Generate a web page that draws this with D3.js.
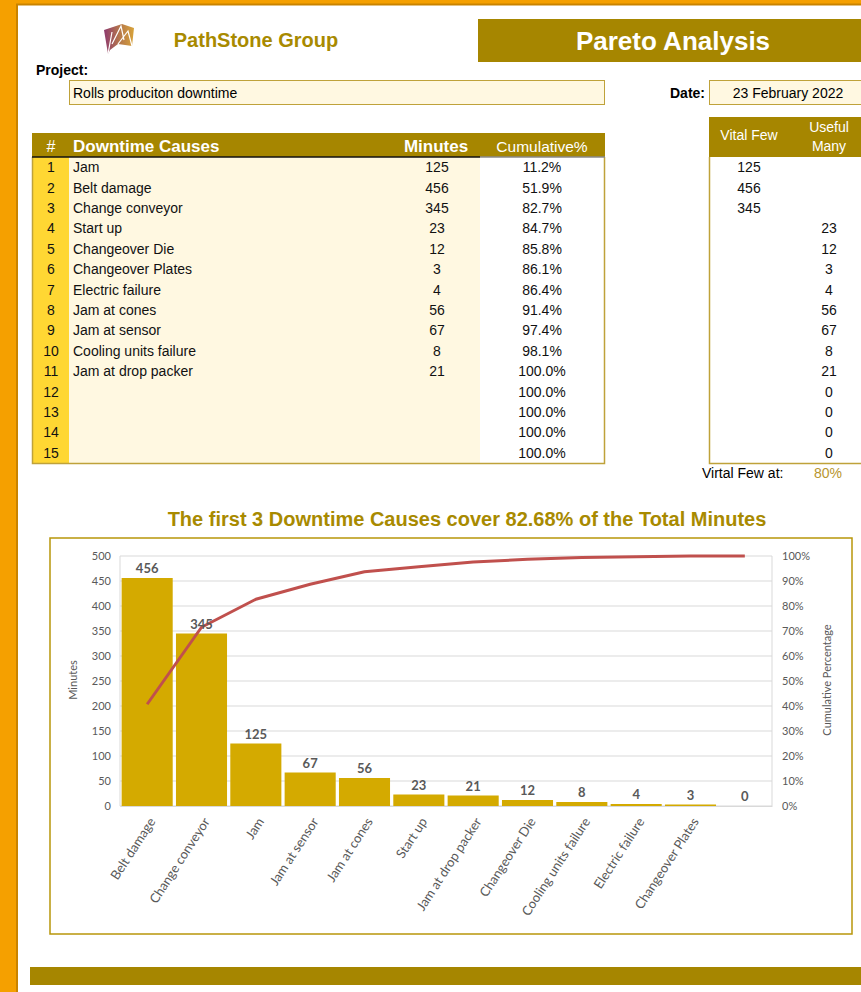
<!DOCTYPE html>
<html>
<head>
<meta charset="utf-8">
<script src="https://cdn.jsdelivr.net/npm/d3@7"></script>
<style>
  body { margin: 0; background: #fff; }
  svg { display: block; }
</style>
</head>
<body>
<script>
// table data (as typed in the sheet)
const rowNumbers = d3.range(1, 16);
const causes = ["Jam", "Belt damage", "Change conveyor", "Start up", "Changeover Die", "Changeover Plates",
  "Electric failure", "Jam at cones", "Jam at sensor", "Cooling units failure", "Jam at drop packer"];
const minutes = [125, 456, 345, 23, 12, 3, 4, 56, 67, 8, 21];
const cumulativeText = ["11.2%", "51.9%", "82.7%", "84.7%", "85.8%", "86.1%", "86.4%", "91.4%", "97.4%",
  "98.1%", "100.0%", "100.0%", "100.0%", "100.0%", "100.0%"];
const vitalFew = [125, 456, 345];
const usefulMany = ["", "", "", 23, 12, 3, 4, 56, 67, 8, 21, 0, 0, 0, 0];

// pareto chart data (sorted)
const paretoCauses = ["Belt damage", "Change conveyor", "Jam", "Jam at sensor", "Jam at cones", "Start up",
  "Jam at drop packer", "Changeover Die", "Cooling units failure", "Electric failure", "Changeover Plates", ""];
const paretoMinutes = [456, 345, 125, 67, 56, 23, 21, 12, 8, 4, 3, 0];
const paretoCumulative = [40.7, 71.5, 82.7, 88.7, 93.7, 95.7, 97.6, 98.7, 99.4, 99.7, 100, 100];
const minuteTicks = [0, 50, 100, 150, 200, 250, 300, 350, 400, 450, 500];
const pctTicks = [0, 10, 20, 30, 40, 50, 60, 70, 80, 90, 100];

const olive = "#A68600";
const goldText = "#A88A00";
const cream = "#FFF8E1";
const border = "#BFA23A";
const sheetFont = "'Liberation Sans', Arial, sans-serif";
const chartFont = "Lato, 'Open Sans', sans-serif";

const svg = d3.select("body").append("svg")
  .attr("width", 861)
  .attr("height", 992)
  .style("font-family", sheetFont);

// orange frame
svg.append("rect").attr("width", 861).attr("height", 992).attr("fill", "#F5A000");
svg.append("rect").attr("x", 18).attr("y", 5).attr("width", 843).attr("height", 987).attr("fill", "#fff");
svg.append("path").attr("d", "M17,992V4.5H861").attr("fill", "none").attr("stroke", "#C98300").attr("stroke-width", 2);

// logo
const grad = svg.append("defs").append("linearGradient").attr("id", "logoGrad")
  .attr("x1", 0).attr("x2", 1).attr("y1", 0).attr("y2", 0);
grad.append("stop").attr("offset", "0%").attr("stop-color", "#8E3A6E");
grad.append("stop").attr("offset", "55%").attr("stop-color", "#B77A4A");
grad.append("stop").attr("offset", "100%").attr("stop-color", "#D8A33A");
const logo = svg.append("g");
logo.append("path").attr("d", "M104,30 L122,24 L134,28 L132,46 L118,44 L110,50 L108,54 Z").attr("fill", "url(#logoGrad)");
logo.append("path").attr("d", "M108,54 L112,32 M112,44 L121,26 L124,40 M118,44 L128,31 L132,46")
  .attr("fill", "none").attr("stroke", "#fff").attr("stroke-width", 1.2);

svg.append("text").attr("x", 256).attr("y", 47).attr("text-anchor", "middle")
  .style("font-size", "20px").style("font-weight", "bold").attr("fill", goldText).text("PathStone Group");

svg.append("rect").attr("x", 478).attr("y", 19).attr("width", 383).attr("height", 43).attr("fill", olive);
svg.append("text").attr("x", 673).attr("y", 50).attr("text-anchor", "middle")
  .style("font-size", "26px").style("font-weight", "bold").attr("fill", "#fff").text("Pareto Analysis");

// project & date
svg.append("text").attr("x", 36).attr("y", 75).style("font-size", "14px").style("font-weight", "bold").text("Project:");
svg.append("rect").attr("x", 69.5).attr("y", 80.5).attr("width", 535).attr("height", 24)
  .attr("fill", cream).attr("stroke", border);
svg.append("text").attr("x", 73).attr("y", 98).style("font-size", "14px").text("Rolls produciton downtime");

svg.append("text").attr("x", 705).attr("y", 98).attr("text-anchor", "end")
  .style("font-size", "14px").style("font-weight", "bold").text("Date:");
svg.append("rect").attr("x", 709.5).attr("y", 80.5).attr("width", 160).attr("height", 24)
  .attr("fill", cream).attr("stroke", border);
svg.append("text").attr("x", 788).attr("y", 98).attr("text-anchor", "middle").style("font-size", "14px").text("23 February 2022");

// main table
const rowY = d3.scaleBand().domain(d3.range(15)).range([157, 463]);
const tableTop = 133;

svg.append("rect").attr("x", 32).attr("y", 157).attr("width", 37).attr("height", 306).attr("fill", "#FFD733");
svg.append("rect").attr("x", 69).attr("y", 157).attr("width", 411).attr("height", 306).attr("fill", cream);
svg.append("rect").attr("x", 32).attr("y", tableTop).attr("width", 573).attr("height", 157 - tableTop).attr("fill", olive);
svg.append("path").attr("d", "M32.5,157V463.5H604.5V157").attr("fill", "none").attr("stroke", border).attr("stroke-width", 1.5);
svg.append("line").attr("x1", 32).attr("x2", 480).attr("y1", 157).attr("y2", 157).attr("stroke", "#111").attr("stroke-width", 1.5);
svg.append("line").attr("x1", 480).attr("x2", 605).attr("y1", 157).attr("y2", 157).attr("stroke", "#888").attr("stroke-width", 1.5);

const hdr = svg.append("g").attr("fill", "#fff");
hdr.append("text").attr("x", 51).attr("y", 152).attr("text-anchor", "middle").style("font-size", "16px").text("#");
hdr.append("text").attr("x", 73).attr("y", 152).style("font-size", "17px").style("font-weight", "bold").text("Downtime Causes");
hdr.append("text").attr("x", 436).attr("y", 152).attr("text-anchor", "middle").style("font-size", "17px").style("font-weight", "bold").text("Minutes");
hdr.append("text").attr("x", 542).attr("y", 152).attr("text-anchor", "middle").style("font-size", "15.5px").text("Cumulative%");

const rows = svg.append("g").style("font-size", "14px").attr("fill", "#111")
  .selectAll("g").data(rowNumbers).join("g")
  .attr("transform", (d, i) => `translate(0, ${rowY(i) + rowY.bandwidth() / 2 + 5})`);
rows.append("text").attr("x", 51).attr("text-anchor", "middle").text(d => d);
rows.append("text").attr("x", 73).text((d, i) => causes[i] || "");
rows.append("text").attr("x", 437).attr("text-anchor", "middle").text((d, i) => minutes[i] !== undefined ? minutes[i] : "");
rows.append("text").attr("x", 542).attr("text-anchor", "middle").text((d, i) => cumulativeText[i]);

// vital few / useful many table
svg.append("rect").attr("x", 709).attr("y", 117).attr("width", 152).attr("height", 40).attr("fill", olive);
svg.append("path").attr("d", "M709.5,157V463.5H861").attr("fill", "none").attr("stroke", border).attr("stroke-width", 1.5);
const hdr2 = svg.append("g").attr("fill", "#fff").style("font-size", "14px").attr("text-anchor", "middle");
hdr2.append("text").attr("x", 749).attr("y", 140).text("Vital Few");
hdr2.append("text").attr("x", 829).attr("y", 132).text("Useful");
hdr2.append("text").attr("x", 829).attr("y", 151).text("Many");

const rows2 = svg.append("g").style("font-size", "14px").attr("fill", "#111").attr("text-anchor", "middle")
  .selectAll("g").data(usefulMany).join("g")
  .attr("transform", (d, i) => `translate(0, ${rowY(i) + rowY.bandwidth() / 2 + 5})`);
rows2.append("text").attr("x", 749).text((d, i) => vitalFew[i] !== undefined ? vitalFew[i] : "");
rows2.append("text").attr("x", 829).text(d => d);

svg.append("text").attr("x", 702).attr("y", 478).style("font-size", "14px").text("Virtal Few at:");
svg.append("text").attr("x", 814).attr("y", 478).style("font-size", "14px").attr("fill", "#B8962E").text("80%");

// chart
svg.append("text").attr("x", 467).attr("y", 526).attr("text-anchor", "middle")
  .style("font-size", "20px").style("font-weight", "bold").attr("fill", goldText)
  .text("The first 3 Downtime Causes cover 82.68% of the Total Minutes");
svg.append("rect").attr("x", 50).attr("y", 538).attr("width", 802).attr("height", 396)
  .attr("fill", "#fff").attr("stroke", "#B8960A").attr("stroke-width", 1.5);

const x = d3.scaleBand().domain(d3.range(paretoMinutes.length)).range([120, 772]).paddingInner(0.06).paddingOuter(0.03);
const y = d3.scaleLinear().domain([0, 500]).range([806, 556]);
const yPct = d3.scaleLinear().domain([0, 100]).range([806, 556]);

const chart = svg.append("g").style("font-family", chartFont);

chart.append("g").selectAll("line").data(minuteTicks).join("line")
  .attr("x1", 120).attr("x2", 772).attr("y1", d => y(d)).attr("y2", d => y(d))
  .attr("stroke", "#D9D9D9").attr("stroke-width", 1);
chart.append("path").attr("d", `M120,${y(500)}V${y(0)}M772,${y(500)}V${y(0)}`).attr("stroke", "#D9D9D9").attr("fill", "none");

const yAxis = chart.append("g").attr("transform", "translate(120,0)")
  .call(d3.axisLeft(y).tickValues(minuteTicks).tickSize(0).tickPadding(9));
const yAxis2 = chart.append("g").attr("transform", "translate(772,0)")
  .call(d3.axisRight(yPct).tickValues(pctTicks).tickSize(0).tickPadding(10).tickFormat(d => d + "%"));
[yAxis, yAxis2].forEach(a => {
  a.select(".domain").remove();
  a.selectAll("text").style("font-family", chartFont).style("font-size", "11px").attr("fill", "#595959");
});

chart.selectAll("rect.bar").data(paretoMinutes).join("rect").attr("class", "bar")
  .attr("x", (d, i) => x(i)).attr("width", x.bandwidth())
  .attr("y", d => y(d)).attr("height", d => y(0) - y(d))
  .attr("fill", "#D4AA00");

const xAxis = chart.append("g").attr("transform", `translate(0,${y(0)})`)
  .call(d3.axisBottom(x).tickSize(0).tickFormat(i => paretoCauses[i]));
xAxis.select(".domain").attr("stroke", "#D9D9D9");
xAxis.selectAll("text")
  .style("font-family", chartFont).style("font-size", "13px").attr("fill", "#595959")
  .style("text-anchor", "end")
  .attr("x", 0).attr("y", 0).attr("dy", "0.35em")
  .attr("transform", "translate(5,13) rotate(-57)");

const line = d3.line()
  .x((d, i) => x(i) + x.bandwidth() / 2)
  .y(d => yPct(d));
chart.append("path").datum(paretoCumulative)
  .attr("d", line).attr("fill", "none")
  .attr("stroke", "#C0504D").attr("stroke-width", 3).attr("stroke-linejoin", "round");

chart.selectAll("text.lbl").data(paretoMinutes).join("text").attr("class", "lbl")
  .attr("x", (d, i) => x(i) + x.bandwidth() / 2).attr("y", d => y(d) - 5)
  .attr("text-anchor", "middle")
  .style("font-size", "13px").style("font-weight", "bold").attr("fill", "#595959")
  .text(d => d);

chart.append("text").attr("transform", "translate(77,680) rotate(-90)").attr("text-anchor", "middle")
  .style("font-size", "11px").attr("fill", "#595959").text("Minutes");
chart.append("text").attr("transform", "translate(831,680) rotate(-90)").attr("text-anchor", "middle")
  .style("font-size", "11px").attr("fill", "#595959").text("Cumulative Percentage");

// footer band
svg.append("rect").attr("x", 30).attr("y", 967).attr("width", 831).attr("height", 18).attr("fill", olive);
</script>
</body>
</html>
